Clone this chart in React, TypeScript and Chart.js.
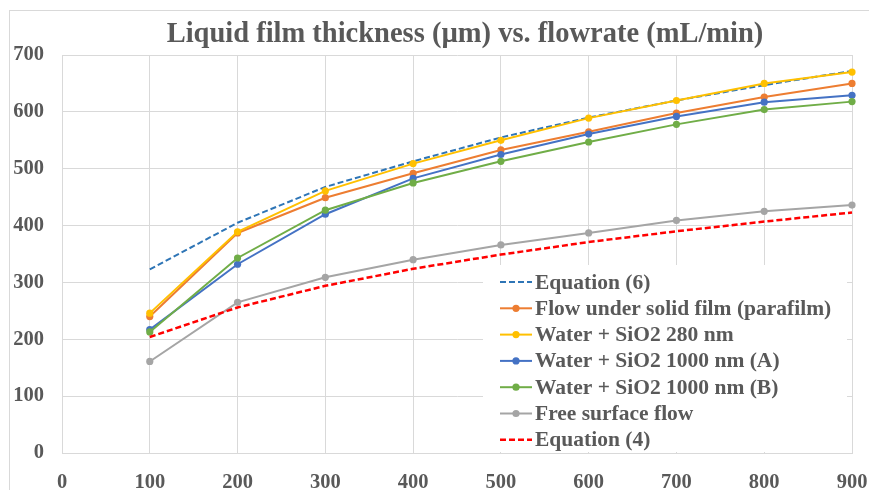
import React, { useEffect, useRef } from "react";
import { Chart, registerables } from "chart.js";

Chart.register(...registerables);

const FONT = '"Liberation Serif", "Times New Roman", serif';
const TEXT_COLOR = "#595959";
const GRID_COLOR = "#d9d9d9";

const titleText = "Liquid film thickness (µm) vs. flowrate (mL/min)";

const flowrates = [100, 200, 300, 400, 500, 600, 700, 800, 900];

const equation6 = [323, 405, 468, 513, 555, 590, 620, 647, 672];
const parafilm = [240, 387, 449, 492, 533, 565, 598, 626, 650];
const sio2nm280 = [246, 389, 461, 509, 550, 589, 620, 650, 670];
const sio2nm1000A = [217, 332, 420, 483, 525, 561, 592, 617, 629];
const sio2nm1000B = [213, 343, 427, 475, 513, 547, 578, 604, 618];
const freeSurface = [161, 265, 309, 340, 366, 387, 409, 425, 436];
const equation4 = [204, 256, 294, 324, 349, 371, 390, 407, 423];

const seriesLabels = [
  "Equation (6)",
  "Flow under solid film (parafilm)",
  "Water + SiO2 280 nm",
  "Water + SiO2 1000 nm (A)",
  "Water + SiO2 1000 nm (B)",
  "Free surface flow",
  "Equation (4)",
];

const xMin = 0;
const xMax = 900;
const yMin = 0;
const yMax = 700;
const tickStep = 100;

const toPoints = (vals: number[]) => flowrates.map((x, i) => ({ x, y: vals[i] }));

const frameAndBackground = {
  id: "frameAndBackground",
  beforeDraw(chart: any) {
    const ctx = chart.ctx;
    ctx.save();
    ctx.fillStyle = "#ffffff";
    ctx.fillRect(0, 0, chart.width, chart.height);
    ctx.strokeStyle = GRID_COLOR;
    ctx.lineWidth = 1;
    ctx.strokeRect(9.5, 10.5, chart.width + 50, chart.height + 50);
    ctx.restore();
  },
  afterDraw(chart: any) {
    const ctx = chart.ctx;
    ctx.save();
    ctx.fillStyle = TEXT_COLOR;
    ctx.font = `bold 28.5px ${FONT}`;
    ctx.textAlign = "center";
    ctx.textBaseline = "middle";
    ctx.fillText(titleText, 465, 35);
    ctx.restore();
  },
};

const insideLegend = {
  id: "insideLegend",
  afterDatasetsDraw(chart: any) {
    const ctx = chart.ctx;
    const area = chart.chartArea;
    const boxLeft = area.right - 369;
    const boxTop = area.bottom - 188;
    ctx.save();
    ctx.fillStyle = "#ffffff";
    ctx.fillRect(boxLeft, boxTop, 364, 187);
    ctx.font = `bold 21.5px ${FONT}`;
    ctx.textBaseline = "middle";
    ctx.textAlign = "left";
    const sampleX0 = boxLeft + 17;
    const sampleX1 = sampleX0 + 32;
    chart.data.datasets.forEach((ds: any, i: number) => {
      const y = boxTop + 17 + i * 26.3;
      ctx.strokeStyle = ds.borderColor;
      ctx.lineWidth = ds.borderWidth;
      ctx.setLineDash(ds.borderDash || []);
      ctx.beginPath();
      ctx.moveTo(sampleX0, y);
      ctx.lineTo(sampleX1, y);
      ctx.stroke();
      ctx.setLineDash([]);
      if (ds.pointRadius > 0) {
        ctx.fillStyle = ds.borderColor;
        ctx.beginPath();
        ctx.arc((sampleX0 + sampleX1) / 2, y, ds.pointRadius, 0, Math.PI * 2);
        ctx.fill();
      }
      ctx.fillStyle = TEXT_COLOR;
      ctx.fillText(ds.label, sampleX1 + 3, y + 1);
    });
    ctx.restore();
  },
};

const seriesStyles = [
  { color: "#2E75B6", dash: [6, 3], marker: 0, width: 2 },
  { color: "#ED7D31", dash: [], marker: 3.6, width: 2 },
  { color: "#FFC000", dash: [], marker: 3.6, width: 2 },
  { color: "#4472C4", dash: [], marker: 3.6, width: 2 },
  { color: "#70AD47", dash: [], marker: 3.6, width: 2 },
  { color: "#A5A5A5", dash: [], marker: 3.6, width: 2 },
  { color: "#FF0000", dash: [6, 3], marker: 0, width: 2.5 },
];

const seriesValues = [equation6, parafilm, sio2nm280, sio2nm1000A, sio2nm1000B, freeSurface, equation4];

export default function App() {
  const canvasRef = useRef<HTMLCanvasElement | null>(null);

  useEffect(() => {
    if (!canvasRef.current) return;
    const n = seriesValues.length;
    const datasets = seriesValues.map((vals, i) => ({
      label: seriesLabels[i],
      data: toPoints(vals),
      borderColor: seriesStyles[i].color,
      backgroundColor: seriesStyles[i].color,
      borderWidth: seriesStyles[i].width,
      borderDash: seriesStyles[i].dash,
      pointRadius: seriesStyles[i].marker,
      pointBackgroundColor: seriesStyles[i].color,
      pointBorderColor: seriesStyles[i].color,
      pointBorderWidth: 0,
      pointHoverRadius: seriesStyles[i].marker,
      tension: 0,
      fill: false,
      clip: false as any,
      order: n - i,
    }));

    const tickFont = { family: FONT, size: 20.5, weight: "bold" as const };

    const chart = new Chart(canvasRef.current, {
      type: "line",
      data: { datasets },
      options: {
        animation: false,
        responsive: false,
        devicePixelRatio: 1,
        layout: { padding: { left: 0, right: 17, top: 55, bottom: 0 } },
        plugins: {
          legend: { display: false },
          tooltip: { enabled: false },
          title: { display: false },
        },
        scales: {
          x: {
            type: "linear",
            min: xMin,
            max: xMax,
            ticks: { stepSize: tickStep, padding: 17, color: TEXT_COLOR, font: tickFont, maxRotation: 0 },
            grid: { color: GRID_COLOR, drawTicks: false, lineWidth: 1 },
            border: { color: GRID_COLOR },
            afterFit: (s: any) => {
              s.height = 37;
              s.paddingLeft = 0;
              s.paddingRight = 0;
            },
          },
          y: {
            type: "linear",
            min: yMin,
            max: yMax,
            ticks: { stepSize: tickStep, padding: 18, color: TEXT_COLOR, font: tickFont },
            grid: { color: GRID_COLOR, drawTicks: false, lineWidth: 1 },
            border: { color: GRID_COLOR },
            afterFit: (s: any) => {
              s.width = 62;
              s.paddingTop = 0;
              s.paddingBottom = 0;
            },
          },
        },
      },
      plugins: [frameAndBackground, insideLegend],
    });

    return () => chart.destroy();
  }, []);

  return (
    <div style={{ position: "absolute", left: 0, top: 0, width: 869, height: 490 }}>
      <canvas ref={canvasRef} width={869} height={490} style={{ display: "block" }} />
    </div>
  );
}
